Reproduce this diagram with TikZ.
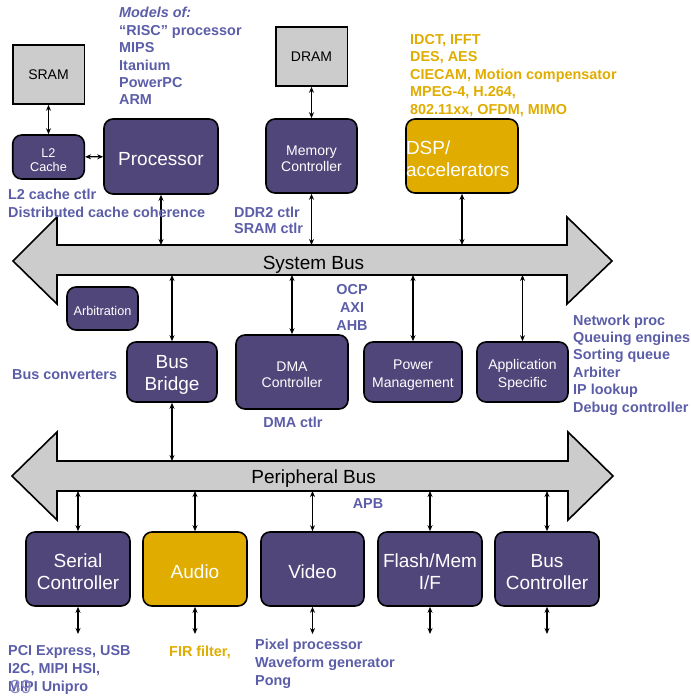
\documentclass[tikz,border=0pt]{standalone}
\usepackage{fontspec}
\setmainfont{Liberation Sans}
\usetikzlibrary{arrows.meta}

\definecolor{blockpurple}{HTML}{51467A}
\definecolor{notepurple}{HTML}{5B5DA8}
\definecolor{accelgold}{HTML}{E0AC00}
\definecolor{busgrey}{HTML}{CCCCCC}
\definecolor{pagenum}{HTML}{8C8DC4}

% invisible strut that lowers block captions slightly inside their boxes
\newcommand\lift{\rule{0pt}{\dimexpr0.73em+5pt\relax}}

\tikzset{
  block/.style={draw=black, line width=1.6pt, rounded corners=9pt, fill=blockpurple,
    text=white, inner sep=0pt, align=center},
  accel/.style={block, fill=accelgold},
  memblock/.style={draw=black, line width=1.6pt, fill=busgrey, text=black, inner sep=0pt,
    font=\fontsize{14}{16}\selectfont},
  bigtxt/.style={font=\fontsize{19}{22}\selectfont},
  midtxt/.style={font=\fontsize{14}{16.7}\selectfont},
  smalltxt/.style={font=\fontsize{12.7}{14}\selectfont},
  note/.style={text=notepurple, inner sep=0pt, align=left,
    font=\bfseries\fontsize{14.4}{17.4}\selectfont},
  goldnote/.style={note, text=accelgold},
  bus/.style={draw=black, line width=1.6pt, fill=busgrey, line join=miter},
  buslabel/.style={inner sep=0pt, font=\fontsize{19}{22}\selectfont, anchor=base},
  link/.style={{Stealth[length=6pt,width=5pt]}-{Stealth[length=6pt,width=5pt]}, line width=1.2pt}
}

\begin{document}
\begin{tikzpicture}[x=1pt,y=-1pt]
\useasboundingbox (0,0) rectangle (690,698);

% ---- bus bodies ----
\draw[bus] (13,261) -- (57,217) -- (57,245) -- (567,245) -- (567,217) -- (612,261)
  -- (567,304) -- (567,275) -- (57,275) -- (57,304) -- cycle;
\draw[bus] (12,476) -- (57,432) -- (57,461) -- (568,461) -- (568,432) -- (613,476)
  -- (568,520) -- (568,491) -- (57,491) -- (57,520) -- cycle;
\node[buslabel] (sbuslabel) at (313.5,269.5) {System Bus};
\node[buslabel] (pbuslabel) at (313.7,483.5) {Peripheral Bus};

\coordinate (sbtop) at (0,245);
\coordinate (sbbot) at (0,275);
\coordinate (pbtop) at (0,461);
\coordinate (pbbot) at (0,491);

% ---- memory and processing blocks ----
\node[memblock, minimum width=71.6pt, minimum height=59pt] (sram) at (48.5,74.5) {SRAM};
\node[memblock, minimum width=71.6pt, minimum height=59pt] (dram) at (311.5,56.5) {DRAM};
\node[block, smalltxt, minimum width=71.6pt, minimum height=44pt] (l2) at (48.5,157) {\lift L2\\Cache};
\node[block, bigtxt, minimum width=114pt, minimum height=75pt] (proc) at (161,156.5) {\lift Processor};
\node[block, midtxt, minimum width=91pt, minimum height=74pt] (memctl) at (311.5,156) {\lift Memory\\Controller};
\node[accel, bigtxt, minimum width=112pt, minimum height=74pt, text width=112pt, align=left,
  font=\fontsize{19}{21.7}\selectfont] (dsp) at (462,156) {\lift DSP/\\accelerators};

% ---- system bus clients ----
\node[block, smalltxt, minimum width=71pt, minimum height=43pt] (arb) at (102.5,308.5) {\lift Arbitration};
\node[block, font=\fontsize{19}{21.3}\selectfont, minimum width=90pt, minimum height=60pt] (bridge) at (172,372) {\lift Bus\\Bridge};
\node[block, midtxt, minimum width=112pt, minimum height=74pt] (dma) at (292,372) {\lift DMA\\Controller};
\node[block, font=\fontsize{14}{18}\selectfont, minimum width=98pt, minimum height=60pt] (power) at (413,372) {\lift Power\\Management};
\node[block, font=\fontsize{14}{18}\selectfont, minimum width=91pt, minimum height=60pt] (app) at (522.5,372) {\lift Application\\Specific};

% ---- peripheral bus clients ----
\node[block, font=\fontsize{19}{22.7}\selectfont, minimum width=104pt, minimum height=74pt] (serial) at (78,569) {\lift Serial\\Controller};
\node[accel, bigtxt, minimum width=104pt, minimum height=74pt] (audio) at (195,569) {\lift Audio};
\node[block, bigtxt, minimum width=103pt, minimum height=74pt] (video) at (312.5,569) {\lift Video};
\node[block, font=\fontsize{19}{22}\selectfont, minimum width=104pt, minimum height=74pt] (flash) at (430,569) {\lift Flash/Mem\\I/F};
\node[block, font=\fontsize{19}{22}\selectfont, minimum width=104pt, minimum height=74pt] (busctl) at (547,569) {\lift Bus\\Controller};

\coordinate (serialend) at (78,634);
\coordinate (audioend) at (195,634);
\coordinate (videoend) at (312.5,634);
\coordinate (flashend) at (430,634);
\coordinate (busctlend) at (547,634);

% ---- connectors ----
\draw[link] (sram) -- (l2);
\draw[link] (l2) -- (proc);
\draw[link] (dram) -- (memctl);
\draw[link] (proc.south) -- (proc.south |- sbtop);
\draw[link] (memctl.south) -- (memctl.south |- sbtop);
\draw[link] (dsp.south) -- (dsp.south |- sbtop);
\draw[link] (bridge.north) -- (bridge.north |- sbbot);
\draw[link] (dma.north) -- (dma.north |- sbbot);
\draw[link] (power.north) -- (power.north |- sbbot);
\draw[link] (app.north) -- (app.north |- sbbot);
\draw[link] (bridge.south) -- (bridge.south |- pbtop);
\foreach \n in {serial,audio,video,flash,busctl}{
  \draw[link] (\n.north) -- (\n.north |- pbbot);
  \draw[link] (\n.south) -- (\n end);
}

% ---- annotations (multi-line notes are anchored at their last baseline) ----
\node[note, anchor=base west] (models) at (119,105)
  {\textit{Models of:}\\“RISC” processor\\MIPS\\Itanium\\PowerPC\\ARM};
\node[note, anchor=base west, font=\bfseries\fontsize{14.4}{18}\selectfont] (l2note) at (8,217)
  {L2 cache ctlr\\Distributed cache coherence};
\node[note, anchor=base west, font=\bfseries\fontsize{14.4}{16}\selectfont] (ddrnote) at (234,233)
  {DDR2 ctlr\\SRAM ctlr};
\node[goldnote, anchor=base west, font=\bfseries\fontsize{14.4}{17.5}\selectfont] (dspnote) at (410,114)
  {IDCT, IFFT\\DES, AES\\CIECAM, Motion compensator\\MPEG-4, H.264,\\802.11xx, OFDM, MIMO};
\node[note, anchor=base, align=center, font=\bfseries\fontsize{14.4}{18}\selectfont] (protonote) at (352,330)
  {OCP\\AXI\\AHB};
\node[note, anchor=base west] (appnote) at (573,412)
  {Network proc\\Queuing engines\\Sorting queue\\Arbiter\\IP lookup\\Debug controller};
\node[note, anchor=base west] (convnote) at (12,379) {Bus converters};
\node[note, anchor=base] (dmanote) at (293,427) {DMA ctlr};
\node[note, anchor=base] (apbnote) at (368,508) {APB};
\node[note, anchor=base west, font=\bfseries\fontsize{14.4}{18}\selectfont] (serialnote) at (8,691)
  {PCI Express, USB\\I2C, MIPI HSI,\\MIPI Unipro};
\node[goldnote, anchor=base west] (firnote) at (169,656) {FIR filter,};
\node[note, anchor=base west, font=\bfseries\fontsize{14.4}{18}\selectfont] (videonote) at (255,685)
  {Pixel processor\\Waveform generator\\Pong};
\node[inner sep=0pt, anchor=base west, text=pagenum, font=\fontsize{19}{19}\selectfont]
  (pagenumber) at (10,693) {39};
\end{tikzpicture}
\end{document}
